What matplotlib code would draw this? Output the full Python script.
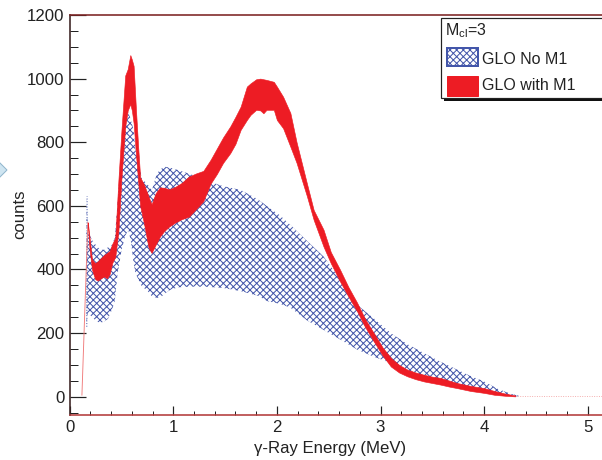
import matplotlib
matplotlib.use("Agg")
import matplotlib.pyplot as plt
from matplotlib.patches import Rectangle, Polygon
from matplotlib.ticker import MultipleLocator

DPI = 120
W, H = 602, 460


def pt(px):
    return px * 72.0 / DPI


plt.rcParams['font.family'] = ['Liberation Sans', 'DejaVu Sans']
plt.rcParams['mathtext.fontset'] = 'custom'
plt.rcParams['mathtext.rm'] = 'Liberation Sans'
plt.rcParams['mathtext.it'] = 'Liberation Sans:italic'
plt.rcParams['hatch.linewidth'] = pt(1.0)

# ---------------- data ----------------
# GLO No M1 (hatched band): energy (MeV), lower and upper counts
e_noM1 = [0.163, 0.175, 0.22, 0.27, 0.30, 0.34, 0.37, 0.41, 0.435, 0.46, 0.50, 0.535,
          0.565, 0.59, 0.617, 0.633, 0.697, 0.746, 0.794, 0.84, 0.874, 0.92, 0.97,
          1.05, 1.164, 1.30, 1.48, 1.65, 1.81, 1.91, 2.03, 2.13, 2.29, 2.45, 2.61,
          2.775, 2.94, 3.10, 3.26, 3.42, 3.58, 3.74, 3.87, 4.00, 4.13, 4.25, 4.35]
lo_noM1 = [225, 265, 248, 235, 232, 238, 245, 275, 300, 380, 460, 505,
           525, 490, 421, 389, 346, 335, 315, 311, 311, 325, 336,
           344, 346, 346, 342, 332, 318, 300, 292, 280, 240, 210, 180,
           148, 125, 106, 84, 64, 47, 32, 23, 17, 8, 3, 0]
hi_noM1 = [628, 520, 490, 470, 462, 462, 470, 478, 500, 600, 780, 860,
           896, 870, 839, 780, 685, 670, 650, 700, 715, 723, 720,
           712, 700, 682, 662, 650, 622, 598, 570, 540, 490, 441, 370,
           289, 245, 200, 165, 137, 110, 85, 65, 48, 25, 10, 2]

# GLO with M1 (solid red band): energy (MeV), lower and upper counts
e_M1 = [0.175, 0.19, 0.215, 0.245, 0.27, 0.30, 0.33, 0.36, 0.385, 0.41, 0.44, 0.47,
        0.50, 0.536, 0.56, 0.585, 0.60, 0.617, 0.64, 0.66, 0.68, 0.72, 0.76, 0.79,
        0.83, 0.87, 0.91, 0.96, 1.02, 1.08, 1.15, 1.22, 1.29, 1.36, 1.42, 1.48,
        1.55, 1.60, 1.65, 1.71, 1.745, 1.80, 1.84, 1.87, 1.90, 1.97, 2.00, 2.06,
        2.13, 2.19, 2.29, 2.355, 2.45, 2.52, 2.61, 2.69, 2.775, 2.85, 2.935, 3.02,
        3.10, 3.18, 3.26, 3.34, 3.42, 3.50, 3.58, 3.66, 3.74, 3.87, 4.00, 4.10,
        4.20, 4.30]
lo_M1 = [540, 470, 400, 370, 365, 372, 378, 372, 385, 420, 440, 520,
         690, 850, 900, 920, 900, 860, 760, 680, 600, 540, 470, 452,
         478, 503, 520, 535, 548, 558, 566, 590, 615, 670, 700, 735,
         766, 795, 839, 870, 886, 902, 900, 891, 902, 902, 870, 844,
         786, 735, 630, 556, 472, 420, 362, 315, 268, 220, 174, 130,
         95, 76, 64, 55, 48, 43, 38, 32, 27, 18, 12, 6,
         3, 1]
hi_M1 = [548, 505, 432, 420, 425, 435, 445, 452, 458, 480, 500, 680,
         840, 1010, 1030, 1074, 1060, 1040, 900, 790, 690, 665, 630, 605,
         640, 658, 657, 652, 660, 672, 692, 702, 710, 745, 780, 815,
         850, 880, 912, 975, 985, 998, 1000, 998, 996, 990, 975, 943,
         892, 800, 670, 587, 525, 455, 399, 345, 295, 245, 200, 155,
         122, 100, 85, 76, 69, 63, 59, 51, 43, 34, 27, 18,
         10, 4]

# thin lead-in / tail traces
lead_e = [0.118, 0.175]
lead_c = [5, 548]
lead_blue_e = [0.165, 0.168]
lead_blue_c = [220, 630]
tail_e = [4.30, 5.14]
tail_c = [1, 1]

x_ticks = [0, 1, 2, 3, 4, 5]
x_tick_labels = ['0', '1', '2', '3', '4', '5']
y_ticks = [0, 200, 400, 600, 800, 1000, 1200]
y_tick_labels = ['0', '200', '400', '600', '800', '1000', '1200']

x_label = 'γ-Ray Energy (MeV)'
y_label = 'counts'
legend_title = r'M$_{\mathrm{cl}}$=3'
legend_labels = ['GLO No M1', 'GLO with M1']

RED = '#ed1c24'
BLUE = '#4356aa'
HATCH = 'xxxxxx'

# ---------------- figure ----------------
fig = plt.figure(figsize=(W / DPI, H / DPI), dpi=DPI)
fig.patch.set_facecolor('white')
ax_left = 69.7
ax = fig.add_axes([ax_left / W, 45 / H, (W - ax_left) / W, 400 / H])

ax.fill_between(e_noM1, lo_noM1, hi_noM1, facecolor='none', edgecolor=BLUE,
                hatch=HATCH, linewidth=0, zorder=2)
ax.plot(lead_blue_e, lead_blue_c, ls=':', color=BLUE, lw=pt(1.0), zorder=2)
ax.plot(lead_e, lead_c, color='#f07a7a', lw=pt(0.9), zorder=3)
ax.plot(tail_e, tail_c, color='#f3a3a3', lw=pt(0.9), ls=':', zorder=3)
ax.fill_between(e_M1, lo_M1, hi_M1, facecolor=RED, edgecolor=RED,
                linewidth=pt(0.6), zorder=4)

ax.set_xlim(0, (W - ax_left) / 103.6)
ax.set_ylim(-57.5, 1200)

ax.set_xticks(x_ticks, x_tick_labels)
ax.set_yticks(y_ticks, y_tick_labels)
ax.xaxis.set_minor_locator(MultipleLocator(0.2))
ax.yaxis.set_minor_locator(MultipleLocator(50))

ax.tick_params(axis='x', which='major', direction='in', length=pt(9), width=pt(1.2),
               pad=pt(5), labelsize=pt(16.7), colors='#222222', top=False)
ax.tick_params(axis='x', which='minor', direction='in', length=pt(4.5), width=pt(1.0),
               colors='#222222', top=False)
ax.tick_params(axis='y', which='major', direction='in', length=pt(16), width=pt(1.2),
               pad=pt(5), labelsize=pt(16.7), colors='#222222', right=False)
ax.tick_params(axis='y', which='minor', direction='in', length=pt(8), width=pt(1.0),
               colors='#222222', right=False)

ax.spines['right'].set_visible(False)
ax.spines['top'].set_color('#7d2424')
ax.spines['left'].set_color('#3a2222')
ax.spines['bottom'].set_color('#b43c3c')
for s in ('top', 'left', 'bottom'):
    ax.spines[s].set_linewidth(pt(1.6))

ax.set_xlabel(x_label, fontsize=pt(16.7), color='#222222')
ax.xaxis.set_label_coords((330 - ax_left) / (W - ax_left), (415 - 448) / 400)
ax.xaxis.label.set_verticalalignment('center')
ax.set_ylabel(y_label, fontsize=pt(16.7), color='#222222')
ax.yaxis.set_label_coords((20 - ax_left) / (W - ax_left), (415 - 214) / 400)
ax.yaxis.label.set_verticalalignment('center')


# ---------------- legend (drawn in figure pixels) ----------------
def fx(px):
    return px / W


def fy(py):
    return 1 - py / H


shadow = Rectangle((fx(444), fy(101)), (620 - 444) / W, 80 / H, facecolor='#111111',
                   edgecolor='none', transform=fig.transFigure, zorder=10)
box = Rectangle((fx(441), fy(98)), (620 - 441) / W, 80 / H, facecolor='white',
                edgecolor='#222222', linewidth=pt(1.2), transform=fig.transFigure, zorder=11)
fig.add_artist(shadow)
fig.add_artist(box)
fig.text(fx(445), fy(31), legend_title, fontsize=pt(16), va='center', ha='left',
         color='#222222', zorder=12)
p1 = Rectangle((fx(447), fy(66)), 31 / W, 18 / H, facecolor='white', edgecolor=BLUE,
               hatch=HATCH, linewidth=pt(2.0), transform=fig.transFigure, zorder=12)
p2 = Rectangle((fx(447), fy(96)), 31 / W, 20 / H, facecolor=RED, edgecolor=RED,
               linewidth=pt(1.0), transform=fig.transFigure, zorder=12)
fig.add_artist(p1)
fig.add_artist(p2)
fig.text(fx(482), fy(59), legend_labels[0], fontsize=pt(16), va='center', ha='left',
         color='#222222', zorder=12)
fig.text(fx(482), fy(86), legend_labels[1], fontsize=pt(16), va='center', ha='left',
         color='#222222', zorder=12)

# cropped marker at the left edge
diamond = Polygon([(fx(-6), fy(157)), (fx(7), fy(170)), (fx(-6), fy(183)), (fx(-19), fy(170))],
                  closed=True, facecolor='#cfe5f1', edgecolor='#8fb5cc', linewidth=pt(1.0),
                  transform=fig.transFigure, zorder=12)
fig.add_artist(diamond)

fig.savefig('out.png', dpi=DPI)
